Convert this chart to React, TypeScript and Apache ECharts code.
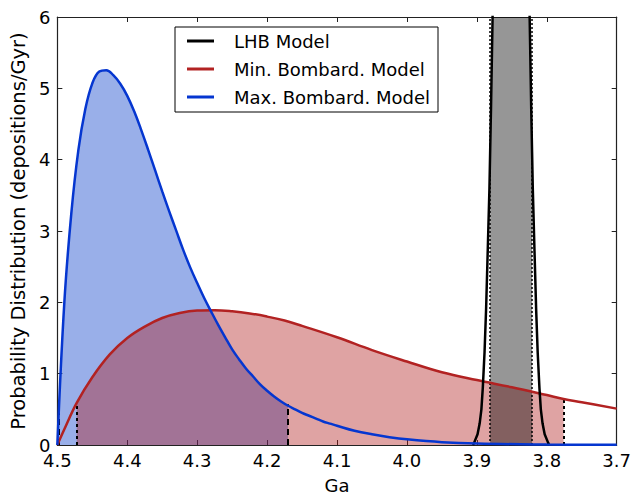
import React, { useEffect, useRef } from "react";
import * as echarts from "echarts";

// ---- Data (Ga, probability density) ----
const maxBombardCurve: [number, number][] = [
  [4.5, 0], [4.49, 2.0], [4.48, 3.25], [4.47, 4.13], [4.46, 4.71], [4.45, 5.07],
  [4.44, 5.235], [4.43, 5.255], [4.42, 5.185], [4.41, 5.065], [4.4, 4.895], [4.39, 4.675],
  [4.38, 4.415], [4.37, 4.135], [4.36, 3.845], [4.35, 3.555], [4.34, 3.275], [4.33, 3.005],
  [4.32, 2.735], [4.31, 2.49], [4.3, 2.27], [4.29, 2.06], [4.28, 1.87], [4.27, 1.685],
  [4.26, 1.51], [4.25, 1.34], [4.24, 1.2], [4.23, 1.07], [4.22, 0.96], [4.21, 0.85],
  [4.2, 0.76], [4.19, 0.68], [4.18, 0.61], [4.17, 0.55], [4.16, 0.5], [4.15, 0.45],
  [4.14, 0.41], [4.13, 0.37], [4.12, 0.33], [4.11, 0.3], [4.1, 0.27], [4.075, 0.2],
  [4.05, 0.15], [4.025, 0.11], [4.0, 0.08], [3.95, 0.04], [3.9, 0.02], [3.8, 0.007],
  [3.7, 0.002],
];

const minBombardCurve: [number, number][] = [
  [4.5, 0], [4.49, 0.22], [4.4723, 0.59], [4.45, 0.95], [4.425, 1.27], [4.4, 1.5],
  [4.375, 1.66], [4.35, 1.78], [4.325, 1.85], [4.3, 1.885], [4.275, 1.89], [4.25, 1.875],
  [4.225, 1.845], [4.2, 1.8], [4.175, 1.745], [4.15, 1.67], [4.1, 1.51], [4.05, 1.33],
  [4.0, 1.17], [3.95, 1.02], [3.9, 0.91], [3.85, 0.81], [3.8, 0.7], [3.776, 0.645],
  [3.75, 0.6], [3.7, 0.51],
];

const lhbCurve: [number, number][] = [
  [3.9055, 0], [3.904, 0.03], [3.899, 0.15], [3.896, 0.3], [3.8935, 0.5], [3.8915, 0.8],
  [3.889, 1.3], [3.8868, 1.9], [3.8845, 2.7], [3.882, 3.6], [3.881, 4.1], [3.8798, 4.7],
  [3.8775, 6.0], [3.872, 11], [3.865, 20], [3.858, 28], [3.851, 32], [3.844, 28],
  [3.837, 20], [3.83, 11], [3.8245, 6.0], [3.8222, 4.7], [3.821, 4.1], [3.82, 3.6],
  [3.8175, 2.7], [3.8152, 1.9], [3.813, 1.3], [3.8105, 0.8], [3.8085, 0.5], [3.806, 0.3],
  [3.803, 0.15], [3.798, 0.03], [3.7965, 0],
];

// credible intervals [from, to] and the heights of their marker lines
const maxBombardInterval = [4.498, 4.17];
const maxBombardMarkHeights = [0.5, 0.57];
const minBombardInterval = [4.4723, 3.776];
const minBombardMarkHeights = [0.59, 0.63];
const lhbInterval = [3.881, 3.821];
const lhbMarkHeights = [6, 6];

const xTicks = { min: 3.7, max: 4.5, interval: 0.1 };
const yTicks = { min: 0, max: 6, interval: 1 };

const seriesNames = ["LHB Model", "Min. Bombard. Model", "Max. Bombard. Model"];

const FONT = "DejaVu Sans";

function within(curve: [number, number][], iv: number[]) {
  const lo = Math.min(iv[0], iv[1]);
  const hi = Math.max(iv[0], iv[1]);
  return curve.filter((p) => p[0] >= lo - 1e-9 && p[0] <= hi + 1e-9);
}

function vLines(iv: number[], heights: number[], style: any) {
  return iv.map((x, i) => [{ coord: [x, 0], lineStyle: style }, { coord: [x, heights[i]] }]);
}

export default function App() {
  const ref = useRef<HTMLDivElement>(null);
  useEffect(() => {
    document.body.style.margin = "0";
    if (!ref.current) return;
    const chart = echarts.init(ref.current, undefined, { renderer: "svg" });

    const axisCommon = {
      type: "value" as const,
      axisLine: { show: true, onZero: false, lineStyle: { color: "#222", width: 1.2 } },
      axisTick: { show: true, inside: true, length: 5, lineStyle: { color: "#222", width: 1 } },
      splitLine: { show: false },
    };

    const option: any = {
      animation: false,
      backgroundColor: "#fff",
      textStyle: { fontFamily: FONT },
      grid: { left: 52, right: 13, top: 17, bottom: 46, containLabel: false },
      legend: {
        data: seriesNames,
        orient: "vertical",
        left: 175,
        top: 27,
        padding: [5, 8, 6, 12],
        itemGap: 10,
        itemWidth: 27,
        itemHeight: 3,
        icon: "rect",
        borderColor: "#000",
        borderWidth: 1,
        backgroundColor: "#fff",
        borderRadius: 0,
        selectedMode: false,
        textStyle: { fontSize: 18, color: "#000", fontFamily: FONT, lineHeight: 18, padding: [0, 0, 0, 15] },
      },
      xAxis: [
        {
          ...axisCommon,
          min: xTicks.min,
          max: xTicks.max,
          interval: xTicks.interval,
          inverse: true,
          position: "bottom",
          name: "Ga",
          nameLocation: "middle",
          nameGap: 31,
          nameTextStyle: { fontSize: 18, color: "#000", fontFamily: FONT },
          axisLabel: {
            show: true,
            fontSize: 18,
            color: "#000",
            margin: 6,
            fontFamily: FONT,
            formatter: (v: number) => v.toFixed(1),
          },
        },
        {
          ...axisCommon,
          min: xTicks.min,
          max: xTicks.max,
          interval: xTicks.interval,
          inverse: true,
          position: "top",
          axisLabel: { show: false },
        },
      ],
      yAxis: [
        {
          ...axisCommon,
          min: yTicks.min,
          max: yTicks.max,
          interval: yTicks.interval,
          position: "left",
          name: "Probability Distribution (depositions/Gyr)",
          nameLocation: "middle",
          nameGap: 27,
          nameTextStyle: { fontSize: 19.5, color: "#000", fontFamily: FONT },
          axisLabel: { show: true, fontSize: 18, color: "#000", margin: 7, fontFamily: FONT },
        },
        {
          ...axisCommon,
          min: yTicks.min,
          max: yTicks.max,
          interval: yTicks.interval,
          position: "right",
          axisLabel: { show: false },
        },
      ],
      series: [
        // fills
        {
          name: "maxFill",
          type: "line",
          data: within(maxBombardCurve, [4.5, maxBombardInterval[1]]),
          smooth: 0.4,
          showSymbol: false,
          lineStyle: { width: 0, opacity: 0 },
          areaStyle: { color: "rgb(0,55,200)", opacity: 0.4 },
          silent: true,
          z: 1,
        },
        {
          name: "minFill",
          type: "line",
          data: within(minBombardCurve, minBombardInterval),
          smooth: 0.4,
          showSymbol: false,
          lineStyle: { width: 0, opacity: 0 },
          areaStyle: { color: "rgb(175,25,25)", opacity: 0.4 },
          silent: true,
          z: 1,
        },
        {
          name: "lhbFill",
          type: "line",
          data: within(lhbCurve, lhbInterval),
          smooth: false,
          showSymbol: false,
          lineStyle: { width: 0, opacity: 0 },
          areaStyle: { color: "#000", opacity: 0.41 },
          silent: true,
          z: 1,
          markLine: {
            silent: true,
            symbol: ["none", "none"],
            label: { show: false },
            animation: false,
            data: [
              ...vLines(maxBombardInterval, maxBombardMarkHeights, { color: "#000", width: 2, type: [6, 4] }),
              ...vLines(minBombardInterval, minBombardMarkHeights, { color: "#000", width: 2, type: [3, 3] }),
              ...vLines(lhbInterval, lhbMarkHeights, { color: "#000", width: 1.5, type: [2, 2] }),
            ],
          },
        },
        // lines
        {
          name: seriesNames[1],
          type: "line",
          data: minBombardCurve,
          smooth: 0.4,
          showSymbol: false,
          color: "#b22222",
          lineStyle: { color: "#b22222", width: 2.5 },
          z: 10,
        },
        {
          name: seriesNames[0],
          type: "line",
          data: lhbCurve,
          smooth: false,
          showSymbol: false,
          color: "#000",
          lineStyle: { color: "#000", width: 2.5 },
          z: 11,
        },
        {
          name: seriesNames[2],
          type: "line",
          data: maxBombardCurve,
          smooth: 0.4,
          showSymbol: false,
          color: "#0536d0",
          lineStyle: { color: "#0536d0", width: 2.5 },
          z: 12,
        },
      ],
    };

    chart.setOption(option);
    return () => chart.dispose();
  }, []);

  return (
    <div
      ref={ref}
      style={{ position: "absolute", left: 0, top: 0, width: 634, height: 499 }}
    />
  );
}
